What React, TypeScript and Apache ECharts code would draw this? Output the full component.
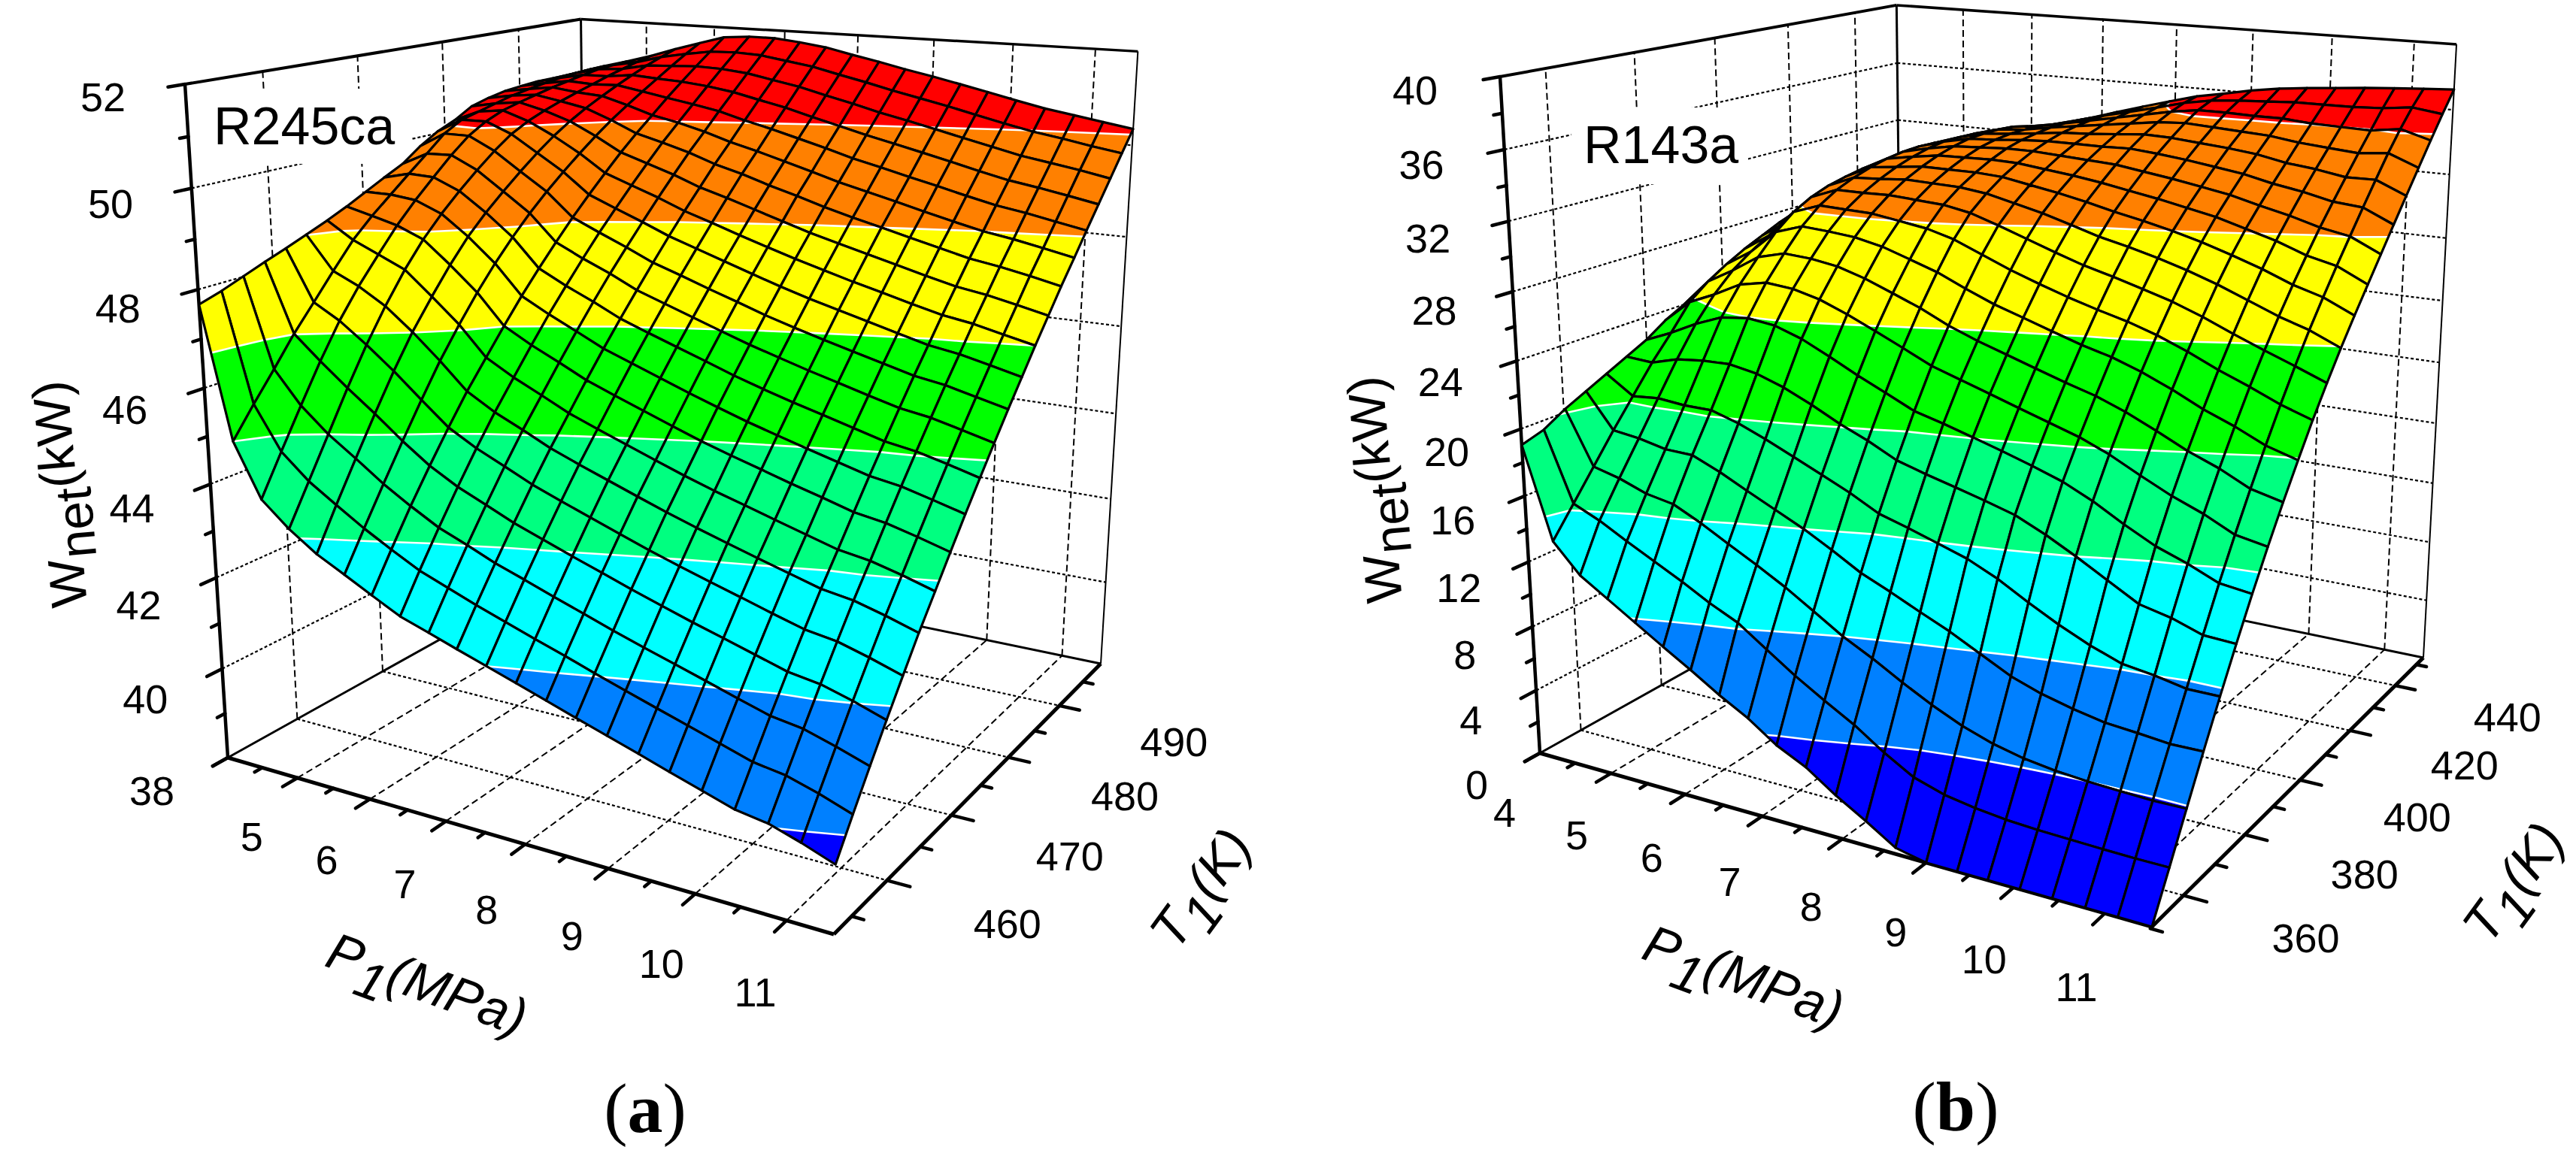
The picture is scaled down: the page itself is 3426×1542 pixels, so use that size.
import React, { useEffect, useRef } from "react";
import * as echarts from "echarts";

// ---------- data ----------
const P_GRID = [4,4.36,4.71,5.07,5.43,5.79,6.14,6.5,6.86,7.21,7.57,7.93,8.29,8.64,9,9.36,9.71,10.07,10.43,10.79,11.14,11.5];
const T_GRID_A = [452.6,454.8,457,459.2,461.4,463.6,465.9,468.1,470.3,472.5,474.7,476.9,479.1,481.3,483.5,485.7,488,490.2,492.4,494.6,496.8,499];
const T_GRID_B = [350.5,355.4,360.3,365.2,370.1,375,379.9,384.8,389.7,394.6,399.5,404.4,409.3,414.2,419.1,424,428.9,433.8,438.7,443.6,448.5,453.4];

// rows: one per P_GRID value; columns: one per T grid value
const W_R245CA = [
[47.7,47.84,48.01,48.18,48.34,48.51,48.69,48.88,49.09,49.3,49.5,49.8,50.04,50.21,50.44,50.55,50.63,50.67,50.7,50.7,50.7,50.7],
[45.0,45.6,46.17,46.76,47.28,47.81,48.34,48.74,49.09,49.44,49.78,50.13,50.35,50.45,50.55,50.65,50.72,50.78,50.83,50.87,50.89,50.9],
[43.9,44.71,45.5,46.27,46.97,47.56,48.1,48.6,49.03,49.42,49.8,50.13,50.36,50.52,50.62,50.71,50.8,50.87,50.94,51.0,51.03,51.05],
[43.4,44.2,45.0,45.8,46.55,47.22,47.85,48.37,48.8,49.18,49.53,49.85,50.13,50.33,50.48,50.61,50.73,50.84,50.95,51.05,51.14,51.22],
[43.0,43.82,44.6,45.36,46.09,46.76,47.36,47.9,48.38,48.78,49.13,49.46,49.77,50.05,50.29,50.5,50.69,50.86,51.02,51.17,51.3,51.42],
[42.7,43.45,44.18,44.89,45.58,46.24,46.85,47.39,47.88,48.32,48.72,49.08,49.41,49.72,50.01,50.28,50.53,50.76,50.98,51.2,51.41,51.6],
[42.4,43.13,43.83,44.48,45.1,45.69,46.24,46.76,47.26,47.72,48.16,48.58,48.97,49.34,49.7,50.03,50.35,50.66,50.95,51.23,51.5,51.77],
[42.1,42.82,43.5,44.15,44.77,45.35,45.91,46.44,46.95,47.42,47.88,48.32,48.73,49.13,49.51,49.88,50.23,50.56,50.89,51.21,51.52,51.82],
[41.9,42.59,43.26,43.89,44.5,45.08,45.63,46.16,46.67,47.16,47.63,48.07,48.5,48.92,49.32,49.71,50.08,50.45,50.8,51.15,51.49,51.82],
[41.7,42.37,43.01,43.63,44.23,44.8,45.35,45.88,46.39,46.88,47.35,47.81,48.26,48.69,49.1,49.51,49.9,50.29,50.67,51.04,51.4,51.76],
[41.5,42.16,42.8,43.41,44.0,44.57,45.12,45.65,46.17,46.66,47.14,47.61,48.06,48.5,48.93,49.35,49.75,50.15,50.54,50.93,51.31,51.68],
[41.3,41.95,42.58,43.19,43.78,44.35,44.9,45.43,45.95,46.45,46.93,47.4,47.86,48.3,48.74,49.16,49.58,49.99,50.38,50.78,51.17,51.55],
[41.1,41.75,42.37,42.98,43.56,44.13,44.68,45.21,45.73,46.24,46.72,47.2,47.66,48.11,48.55,48.99,49.41,49.83,50.23,50.64,51.04,51.43],
[40.9,41.54,42.16,42.77,43.35,43.92,44.47,45.0,45.53,46.03,46.52,47.0,47.47,47.93,48.37,48.81,49.24,49.66,50.08,50.49,50.9,51.3],
[40.7,41.34,41.96,42.57,43.15,43.72,44.27,44.81,45.33,45.84,46.34,46.82,47.29,47.76,48.21,48.65,49.09,49.52,49.94,50.36,50.77,51.18],
[40.5,41.14,41.77,42.37,42.96,43.53,44.09,44.63,45.15,45.66,46.16,46.65,47.13,47.59,48.05,48.5,48.94,49.37,49.8,50.22,50.64,51.05],
[40.3,40.95,41.58,42.19,42.78,43.35,43.91,44.45,44.98,45.5,46.0,46.49,46.97,47.44,47.9,48.35,48.79,49.23,49.66,50.08,50.5,50.92],
[40.1,40.75,41.38,42.0,42.59,43.17,43.73,44.28,44.81,45.33,45.83,46.33,46.81,47.28,47.74,48.2,48.64,49.08,49.51,49.94,50.36,50.78],
[39.9,40.55,41.19,41.81,42.41,42.99,43.55,44.1,44.64,45.16,45.67,46.17,46.65,47.13,47.59,48.05,48.5,48.94,49.37,49.8,50.23,50.65],
[39.8,40.45,41.09,41.71,42.31,42.89,43.45,44.0,44.54,45.06,45.57,46.07,46.55,47.03,47.49,47.95,48.4,48.84,49.27,49.7,50.13,50.55],
[39.6,40.26,40.9,41.53,42.13,42.72,43.29,43.84,44.38,44.91,45.42,45.92,46.41,46.89,47.36,47.83,48.28,48.72,49.16,49.6,50.02,50.45],
[39.36,40.03,40.68,41.31,41.92,42.52,43.1,43.66,44.21,44.74,45.26,45.77,46.26,46.75,47.22,47.69,48.15,48.6,49.04,49.48,49.92,50.35],
];

const W_R143A = [
[19.05,19.45,20.2,20.8,21.4,22.0,22.6,23.4,24.0,24.6,25.0,25.4,25.8,26.6,27.3,28.0,28.4,28.8,29.05,29.15,29.2,29.2],
[13.6,15.3,17.0,18.7,20.3,21.9,23.3,24.8,25.7,26.4,27.0,27.5,28.0,28.4,28.8,29.1,29.3,29.45,29.55,29.65,29.72,29.8],
[11.9,14.6,16.6,18.5,20.45,22.36,24.1,25.5,26.6,27.4,28.05,28.55,29.0,29.35,29.65,29.9,30.05,30.15,30.22,30.28,30.34,30.4],
[10.85,13.7,16.0,18.15,20.3,22.55,24.75,26.35,27.65,28.85,29.75,30.35,30.75,31.0,31.2,31.3,31.35,31.35,31.3,31.2,31.1,30.96],
[9.8,12.85,15.7,18.1,20.3,22.6,24.95,26.7,28.1,29.4,30.35,31.0,31.45,31.8,32.05,32.2,32.25,32.2,32.1,31.95,31.7,31.4],
[8.75,12.0,14.9,17.4,19.8,22.3,24.75,26.55,28.0,29.3,30.3,31.0,31.55,32.0,32.35,32.6,32.75,32.75,32.7,32.55,32.3,31.95],
[7.76,11.1,14.0,16.6,19.15,21.75,24.2,26.15,27.75,29.15,30.25,31.05,31.7,32.2,32.6,32.9,33.1,33.15,33.15,33.05,32.8,32.44],
[6.68,10.3,13.1,15.8,18.4,21.0,23.4,25.5,27.25,28.8,30.0,30.95,31.65,32.2,32.65,33.0,33.2,33.3,33.3,33.25,33.1,32.95],
[5.72,9.1,12.15,15.0,17.65,20.15,22.55,24.75,26.6,28.25,29.75,30.85,31.6,32.2,32.7,33.1,33.35,33.5,33.6,33.6,33.55,33.45],
[4.55,7.95,11.1,14.1,16.9,19.45,21.8,24.0,25.95,27.7,29.3,30.55,31.4,32.1,32.65,33.1,33.45,33.7,33.85,33.95,34.0,33.98],
[3.7,6.9,10.0,13.1,16.0,18.6,21.0,23.2,25.15,26.95,28.6,30.0,31.0,31.8,32.45,33.0,33.45,33.8,34.1,34.3,34.42,34.5],
[2.5,5.9,9.1,12.35,15.5,18.1,20.55,22.65,24.5,26.25,27.9,29.4,30.6,31.5,32.25,32.9,33.45,33.95,34.35,34.65,34.85,35.0],
[1.46,4.7,8.1,11.55,14.95,17.65,20.05,22.1,23.95,25.7,27.3,28.8,30.1,31.15,32.0,32.8,33.5,34.1,34.6,35.0,35.3,35.48],
[0.37,3.7,7.2,10.8,14.4,17.2,19.55,21.55,23.4,25.15,26.75,28.25,29.6,30.75,31.7,32.55,33.35,34.05,34.7,35.25,35.6,35.8],
[0,3.15,6.4,9.9,13.6,16.7,19.0,21.0,22.85,24.6,26.25,27.8,29.2,30.4,31.4,32.3,33.15,33.9,34.6,35.25,35.75,36.15],
[0,2.85,5.8,9.0,12.6,15.9,18.4,20.45,22.35,24.15,25.8,27.3,28.75,30.0,31.05,32.0,32.9,33.75,34.5,35.2,35.85,36.42],
[0,2.65,5.4,8.4,11.7,15.0,17.6,19.75,21.7,23.55,25.25,26.8,28.25,29.55,30.7,31.7,32.65,33.55,34.4,35.2,35.95,36.6],
[0,2.55,5.15,7.95,10.9,14.0,16.6,18.85,20.9,22.8,24.55,26.15,27.65,29.0,30.2,31.25,32.25,33.2,34.15,35.05,35.95,36.75],
[0,2.5,5.0,7.6,10.25,13.0,15.7,18.0,20.05,21.95,23.75,25.4,26.95,28.4,29.7,30.85,31.95,33.0,34.0,35.0,35.97,36.91],
[0,2.45,4.92,7.45,10.0,12.6,15.05,17.3,19.35,21.25,23.05,24.7,26.25,27.7,29.05,30.35,31.55,32.7,33.85,34.95,36.05,37.03],
[0,2.42,4.85,7.27,9.65,12.0,14.3,16.45,18.5,20.45,22.3,24.05,25.7,27.2,28.65,30.03,31.4,32.73,34.03,35.2,36.25,37.14],
[0,2.42,4.88,7.3,9.65,11.91,14.07,16.12,18.07,19.92,21.7,23.35,24.92,26.38,27.79,29.19,30.58,31.96,33.32,34.68,36.0,37.25],
];

const LEVELS_A = [39.75,41.5,43.25,45,46.75,48.5,50.25];
const LEVELS_B = [5,10,15,20,25,30,35];
const BAND_COLORS = ["#0000ff","#0080ff","#00ffff","#00ff80","#00ff00","#ffff00","#ff8000","#ff0000"];

const Z_TICKS_A = [38,40,42,44,46,48,50,52];
const Z_TICKS_B = [0,4,8,12,16,20,24,28,32,36,40];
const P_TICKS = [5,6,7,8,9,10,11];
const T_TICKS_A = [460,470,480,490];
const T_TICKS_B = [360,380,400,420,440];

const SANS = "Liberation Sans";
const SERIF = "Liberation Serif";

type Pt = [number, number];

function makeProj(A1: Pt, A0: Pt, A2: Pt, A3: Pt, B1: Pt, g3: number) {
  const dx1 = A0[0]-A2[0], dx2 = A3[0]-A2[0], sx = A1[0]-A0[0]+A2[0]-A3[0];
  const dy1 = A0[1]-A2[1], dy2 = A3[1]-A2[1], sy = A1[1]-A0[1]+A2[1]-A3[1];
  const den = dx1*dy2-dx2*dy1;
  const g1 = (sx*dy2-dx2*sy)/den, g2 = (dx1*sy-sx*dy1)/den;
  const a = (k: number) => [A0[k]*(1+g1)-A1[k], A3[k]*(1+g2)-A1[k], B1[k]*(1+g3)-A1[k]];
  const ax = a(0), ay = a(1);
  return (u: number, v: number, w: number): Pt => {
    const d = 1+g1*u+g2*v+g3*w;
    return [(A1[0]+ax[0]*u+ax[1]*v+ax[2]*w)/d, (A1[1]+ay[0]*u+ay[1]*v+ay[2]*w)/d];
  };
}

const PANELS = [
  {
    proj: makeProj([303,1008],[1109,1243],[1464,883],[781,741.6],[246,112],-0.088),
    W: W_R245CA, T: T_GRID_A, levels: LEVELS_A,
    zMin: 38, zMax: 52, pMin: 4, pMax: 11.5, tMin: 452.6, tMax: 499,
    zTicks: Z_TICKS_A, tTicks: T_TICKS_A, pTicks: P_TICKS, pLabels: P_TICKS,
    zMinor: 1, tMinor: 5,
    zOff: [[-101,44],[-109,17]], pOff: [[-64,75],[-40,97]], tOff: [[162,60],[150,45]],
    name: "R245ca", nameX: 284, nameY: 168, rect: [263,118,283,100],
    wOrigin: [92,808], pOrigin: [438,1262], tOrigin: [1545,1253],
    caption: "a", capX: 858, capY: 1474,
  },
  {
    proj: makeProj([2048,1002],[2862,1233],[3223,875],[2531,731.9],[1995,102],-0.08),
    W: W_R143A, T: T_GRID_B, levels: LEVELS_B,
    zMin: 0, zMax: 40, pMin: 4, pMax: 11.5, tMin: 350.5, tMax: 453.4,
    zTicks: Z_TICKS_B, tTicks: T_TICKS_B, pTicks: [4,...P_TICKS], pLabels: [4,...P_TICKS],
    zMinor: 2, tMinor: 10,
    zOff: [[-84,42],[-113,18]], pOff: [[-47,79],[-37,99]], tOff: [[164,58],[147,40]],
    name: "R143a", nameX: 2106, nameY: 193, rect: [2090,143,235,102],
    wOrigin: [1841,802], pOrigin: [2189,1252], tOrigin: [3291,1245],
    caption: "b", capX: 2601, capY: 1472,
  },
];

type V3 = { u: number; v: number; z: number };

function clipZ(poly: V3[], level: number, keepAbove: boolean): V3[] {
  const out: V3[] = [];
  for (let i = 0; i < poly.length; i++) {
    const a = poly[i], b = poly[(i+1)%poly.length];
    const ain = keepAbove ? a.z >= level : a.z <= level;
    const bin = keepAbove ? b.z >= level : b.z <= level;
    if (ain) out.push(a);
    if (ain !== bin) {
      const t = (level-a.z)/(b.z-a.z);
      out.push({ u: a.u+(b.u-a.u)*t, v: a.v+(b.v-a.v)*t, z: level });
    }
  }
  return out;
}

function makeSurfaceRender(panel: any) {
  const { W, T, levels, proj, zMin, zMax, pMin, pMax, tMin, tMax } = panel;
  const uOf = (p: number) => (p-pMin)/(pMax-pMin);
  const vOf = (t: number) => (t-tMin)/(tMax-tMin);
  return (_: any, api: any) => {
    const i = api.value(0), j = api.value(1);
    const corner = (a: number, b: number): V3 => ({ u: uOf(P_GRID[a]), v: vOf(T[b]), z: W[a][b] });
    const quad = [corner(i,j), corner(i+1,j), corner(i+1,j+1), corner(i,j+1)];
    const toPx = (q: V3) => api.coord(proj(q.u, q.v, (q.z-zMin)/(zMax-zMin)));
    const children: any[] = [];
    for (let k = 0; k < BAND_COLORS.length; k++) {
      let poly = quad;
      if (k > 0) poly = clipZ(poly, levels[k-1], true);
      if (poly.length && k < levels.length) poly = clipZ(poly, levels[k], false);
      if (poly.length >= 3) {
        children.push({ type: "polygon", shape: { points: poly.map(toPx) },
          style: { fill: BAND_COLORS[k], stroke: BAND_COLORS[k], lineWidth: 1 } });
      }
    }
    for (const L of levels) {
      const hits: V3[] = [];
      for (let e = 0; e < 4; e++) {
        const a = quad[e], b = quad[(e+1)%4];
        if ((a.z < L) !== (b.z < L)) {
          const t = (L-a.z)/(b.z-a.z);
          hits.push({ u: a.u+(b.u-a.u)*t, v: a.v+(b.v-a.v)*t, z: L });
        }
      }
      for (let h = 0; h+1 < hits.length; h += 2) {
        children.push({ type: "polyline", shape: { points: [toPx(hits[h]), toPx(hits[h+1])] },
          style: { stroke: "#ffffff", lineWidth: 2.6, fill: "none" } });
      }
    }
    const outline = quad.map(toPx);
    children.push({ type: "polygon", shape: { points: outline },
      style: { fill: "none", stroke: "#000000", lineWidth: 3.2, lineJoin: "round" } });
    return { type: "group", children };
  };
}

function lerp2(pair: number[][], t: number) {
  return [pair[0][0]+(pair[1][0]-pair[0][0])*t, pair[0][1]+(pair[1][1]-pair[0][1])*t];
}

function makeFrameRender(panel: any) {
  const { proj, zMin, zMax, pMin, pMax, tMin, tMax, zTicks, tTicks, pTicks, pLabels, zMinor, tMinor } = panel;
  const uOf = (p: number) => (p-pMin)/(pMax-pMin);
  const vOf = (t: number) => (t-tMin)/(tMax-tMin);
  const wOf = (z: number) => (z-zMin)/(zMax-zMin);
  return (_: any, api: any) => {
    const c: any[] = [];
    const seg = (p: Pt, q: Pt, lw: number, dash?: number[], cap = "butt") => {
      const a = api.coord(p), b = api.coord(q);
      c.push({ type: "line", shape: { x1: a[0], y1: a[1], x2: b[0], y2: b[1] },
        style: { stroke: "#000000", lineWidth: lw, lineDash: dash, lineCap: cap } });
    };
    const DASH = [9,5], DOT = [4,3];
    const gz = zTicks.filter((z: number) => z > zMin && z < zMax);
    for (const z of gz) {
      const w = wOf(z);
      seg(proj(0,0,w), proj(0,1,w), 2.2, DOT);
      seg(proj(0,1,w), proj(1,1,w), 2.2, DOT);
    }
    for (const t of tTicks) { const v = vOf(t); seg(proj(0,v,0), proj(0,v,1), 2, DASH); seg(proj(0,v,0), proj(1,v,0), 2.2, DOT); }
    for (const p of pTicks) { if (p === pMin) continue; const u = uOf(p); seg(proj(u,1,0), proj(u,1,1), 2, DASH); seg(proj(u,0,0), proj(u,1,0), 2, DASH); }
    seg(proj(0,1,0), proj(0,1,1), 3);
    seg(proj(0,0,1), proj(0,1,1), 4);
    seg(proj(0,1,1), proj(1,1,1), 3.5);
    seg(proj(1,1,0), proj(1,1,1), 2);
    seg(proj(0,0,0), proj(0,1,0), 3);
    seg(proj(0,1,0), proj(1,1,0), 3);
    seg(proj(0,0,0), proj(0,0,1), 4.5);
    seg(proj(0,0,0), proj(1,0,0), 5);
    seg(proj(1,0,0), proj(1,1,0), 5);
    const MAJ = 0.033, MIN = 0.017;
    for (let z = zMin; z <= zMax+1e-6; z += zMinor) {
      const major = zTicks.includes(z);
      seg(proj(0,0,wOf(z)), proj(0,major?-MAJ:-MIN,wOf(z)), 4.5, undefined, "round");
    }
    for (let p = pMin; p <= pMax+1e-6; p += 0.5) {
      if (p === pMax) continue;
      const major = Number.isInteger(p);
      seg(proj(uOf(p),0,0), proj(uOf(p),major?-MAJ:-MIN,0), 4.5, undefined, "round");
    }
    for (let t = tTicks[0]-tMinor; t <= tMax; t += tMinor) {
      const major = tTicks.includes(t);
      seg(proj(1,vOf(t),0), proj(major?1+MAJ:1+MIN,vOf(t),0), 4.5, undefined, "round");
    }
    const txt = (s: string, x: number, y: number, size = 54, extra: any = {}) => {
      const q = api.coord([x,y]);
      c.push({ type: "text", x: q[0], y: q[1], style: Object.assign({ text: s, fontSize: size, fontFamily: SANS,
        fill: "#000000", align: "center", verticalAlign: "middle" }, extra) });
    };
    zTicks.forEach((z: number) => {
      const b = proj(0,0,wOf(z)), o = lerp2(panel.zOff, wOf(z));
      txt(String(z), b[0]+o[0], b[1]+o[1]);
    });
    pLabels.forEach((p: number) => {
      const b = proj(uOf(p),0,0), o = lerp2(panel.pOff, uOf(p));
      txt(String(p), b[0]+o[0], b[1]+o[1]);
    });
    tTicks.forEach((t: number) => {
      const b = proj(1,vOf(t),0), o = lerp2(panel.tOff, vOf(t));
      txt(String(t), b[0]+o[0], b[1]+o[1]);
    });
    const [rx,ry,rw,rh] = panel.rect;
    c.push({ type: "rect", shape: { x: rx, y: ry, width: rw, height: rh }, style: { fill: "#ffffff" } });
    txt(panel.name, panel.nameX, panel.nameY, 70, { align: "left" });
    const title = (origin: number[], deg: number, parts: any[]) => {
      const children = parts.map((pt) => ({ type: "text", x: pt[1], y: pt[2],
        style: { text: pt[0], fontSize: pt[3], fontFamily: SANS, fontStyle: pt[4] || "normal",
          fill: "#000000", align: "left", verticalAlign: "middle" } }));
      c.push({ type: "group", x: origin[0], y: origin[1], rotation: deg*Math.PI/180, children });
    };
    title(panel.wOrigin, 95, [["W",0,0,68],["net",64,18,68],["(kW)",159,0,68]]);
    title(panel.pOrigin, -20, [["P",0,0,70,"italic"],["1",47,22,70,"italic"],["(MPa)",86,0,70,"italic"]]);
    title(panel.tOrigin, 54, [["T",0,0,70,"italic"],["1",43,22,70,"italic"],["(K)",82,0,70,"italic"]]);
    const cp = api.coord([panel.capX, panel.capY]);
    c.push({ type: "text", x: cp[0], y: cp[1], style: { text: `{p|(}{b|${panel.caption}}{p|)}`,
      align: "center", verticalAlign: "middle",
      rich: { p: { fontSize: 94, fontFamily: SERIF, fill: "#000000" },
              b: { fontSize: 94, fontFamily: SERIF, fontWeight: "bold", fill: "#000000" } } } });
    return { type: "group", children: c };
  };
}

function cellList() {
  const cells: number[][] = [];
  for (let j = T_GRID_A.length-2; j >= 0; j--) {
    for (let i = 0; i < P_GRID.length-1; i++) cells.push([i,j]);
  }
  return cells;
}

export default function App() {
  const ref = useRef<HTMLDivElement>(null);
  useEffect(() => {
    document.body.style.margin = "0";
    const chart = echarts.init(ref.current!, undefined, { renderer: "svg" });
    const cells = cellList();
    const series: any[] = [];
    for (const panel of PANELS) {
      series.push({ type: "custom", coordinateSystem: "cartesian2d", z: 1, silent: true,
        data: [[0,0]], renderItem: makeFrameRender(panel) });
      series.push({ type: "custom", coordinateSystem: "cartesian2d", z: 3, silent: true,
        data: cells, renderItem: makeSurfaceRender(panel) });
    }
    chart.setOption({
      animation: false,
      backgroundColor: "#ffffff",
      grid: { left: 0, right: 0, top: 0, bottom: 0 },
      xAxis: { type: "value", min: 0, max: 3426, show: false },
      yAxis: { type: "value", min: 0, max: 1542, inverse: true, show: false },
      series,
    });
    return () => chart.dispose();
  }, []);
  return <div ref={ref} style={{ width: 3426, height: 1542 }} />;
}
